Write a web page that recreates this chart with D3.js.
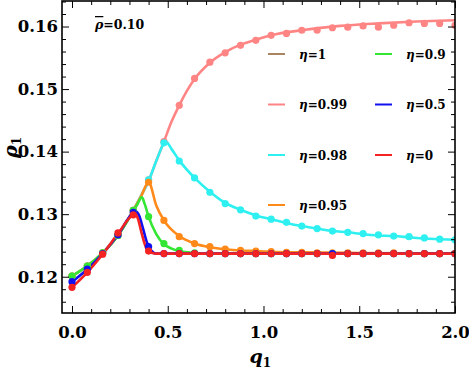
<!DOCTYPE html>
<html>
<head>
<meta charset="utf-8">
<script src="https://cdn.jsdelivr.net/npm/d3@7"></script>
<style>
  body { margin: 0; background: #fff; }
  text { font-family: "DejaVu Serif", serif; font-weight: bold; }
</style>
</head>
<body>
<div class="chart"></div>
<script>
// simulation points, same q grid for every series
const qPoints = [0, 0.08, 0.16, 0.24, 0.32, 0.40, 0.48, 0.56, 0.64, 0.72, 0.80, 0.88, 0.96,
  1.04, 1.12, 1.20, 1.28, 1.36, 1.44, 1.52, 1.60, 1.68, 1.76, 1.84, 1.92, 2.00];

const pts099 = [0.1201, 0.1217, 0.1238, 0.1266, 0.1306, 0.1355, 0.1416, 0.1474, 0.1517, 0.1543, 0.1558, 0.1570, 0.1578,
  0.1586, 0.1589, 0.1594, 0.1594, 0.1598, 0.1599, 0.1601, 0.1599, 0.1602, 0.1606, 0.1605, 0.1605, 0.1602];
const pts098 = [0.1201, 0.1217, 0.1238, 0.1266, 0.1306, 0.1355, 0.1414, 0.1385, 0.1358, 0.1335, 0.1317, 0.1307, 0.1297,
  0.1292, 0.1287, 0.1281, 0.1277, 0.1273, 0.1271, 0.1269, 0.1267, 0.1265, 0.1264, 0.1262, 0.1260, 0.1259];
const pts095 = [0.1201, 0.1217, 0.1238, 0.1266, 0.1306, 0.1351, 0.1290, 0.1264, 0.1253, 0.1248, 0.1244, 0.1242, 0.1241,
  0.1240, 0.1239, 0.1239, 0.1238, 0.1238, 0.1238, 0.1238, 0.1238, 0.1238, 0.1237, 0.1237, 0.1237, 0.1237];
const pts090 = [0.1201, 0.1217, 0.1238, 0.1266, 0.1306, 0.1296, 0.1253, 0.1242, 0.1238, 0.1237, 0.1237, 0.1237, 0.1237,
  0.1237, 0.1237, 0.1237, 0.1237, 0.1237, 0.1237, 0.1237, 0.1237, 0.1237, 0.1237, 0.1237, 0.1237, 0.1237];
const pts050 = [0.1192, 0.1212, 0.1237, 0.1267, 0.1303, 0.1248, 0.1237, 0.1237, 0.1237, 0.1237, 0.1237, 0.1237, 0.1237,
  0.1237, 0.1237, 0.1237, 0.1237, 0.1237, 0.1237, 0.1237, 0.1237, 0.1237, 0.1237, 0.1237, 0.1237, 0.1237];
const pts000 = [0.1183, 0.1207, 0.1236, 0.1270, 0.1299, 0.1241, 0.1237, 0.1237, 0.1237, 0.1237, 0.1237, 0.1237, 0.1237,
  0.1237, 0.1237, 0.1237, 0.1237, 0.1234, 0.1237, 0.1237, 0.1237, 0.1237, 0.1237, 0.1237, 0.1237, 0.1237];

// theory curves [q, rho]
const line099 = [[0, 0.1201], [0.08, 0.1217], [0.16, 0.1238], [0.24, 0.1266], [0.32, 0.1306], [0.36, 0.1329],
  [0.40, 0.1353], [0.44, 0.1385], [0.48, 0.1416], [0.52, 0.1448], [0.56, 0.1474], [0.60, 0.1497], [0.64, 0.1516],
  [0.72, 0.1542], [0.80, 0.1559], [0.88, 0.1571], [0.96, 0.1579], [1.04, 0.1586], [1.2, 0.1594], [1.4, 0.1601],
  [1.6, 0.1605], [1.8, 0.1608], [2.0, 0.1610]];
const line098 = [[0, 0.1201], [0.08, 0.1217], [0.16, 0.1238], [0.24, 0.1266], [0.32, 0.1306], [0.36, 0.1329],
  [0.40, 0.1353], [0.44, 0.1385], [0.48, 0.1413], [0.49, 0.1416], [0.52, 0.1404], [0.56, 0.1386], [0.64, 0.1358],
  [0.72, 0.1336], [0.80, 0.1318], [0.88, 0.1307], [0.96, 0.1298], [1.04, 0.1292], [1.12, 0.1286], [1.20, 0.1281],
  [1.28, 0.1277], [1.36, 0.1273], [1.44, 0.1271], [1.52, 0.1268], [1.60, 0.1266], [1.68, 0.1265], [1.76, 0.1263],
  [1.84, 0.1261], [1.92, 0.1260], [2.0, 0.1259]];
const line095 = [[0, 0.1201], [0.08, 0.1217], [0.16, 0.1238], [0.24, 0.1266], [0.32, 0.1306], [0.36, 0.1328],
  [0.40, 0.1351], [0.44, 0.1314], [0.48, 0.1290], [0.56, 0.1265], [0.64, 0.1253], [0.72, 0.1247], [0.80, 0.1244],
  [0.88, 0.1242], [0.96, 0.1241], [1.04, 0.1240], [1.2, 0.1239], [1.5, 0.1238], [2.0, 0.1237]];
const line090 = [[0, 0.1201], [0.08, 0.1217], [0.16, 0.1238], [0.24, 0.1266], [0.32, 0.1305], [0.34, 0.1315],
  [0.365, 0.1327], [0.38, 0.1316], [0.40, 0.1296], [0.44, 0.1268], [0.48, 0.1252], [0.52, 0.1245], [0.56, 0.1241],
  [0.64, 0.1238], [0.72, 0.1237], [2.0, 0.1237]];
const line050 = [[0, 0.1192], [0.08, 0.1212], [0.16, 0.1237], [0.24, 0.1267], [0.32, 0.1302], [0.335, 0.1304],
  [0.35, 0.1298], [0.37, 0.1278], [0.39, 0.1256], [0.40, 0.1248], [0.42, 0.1240], [0.44, 0.1237], [2.0, 0.1237]];
const line000 = [[0, 0.1183], [0.08, 0.1207], [0.16, 0.1236], [0.24, 0.1269], [0.32, 0.1299], [0.33, 0.1300],
  [0.345, 0.1292], [0.36, 0.1274], [0.38, 0.1252], [0.39, 0.1244], [0.40, 0.1241], [0.42, 0.1238], [0.44, 0.1237],
  [2.0, 0.1237]];

const etaLabels = ['1', '0.99', '0.98', '0.95', '0.9', '0.5', '0'];
const etaColors = ['#a98460', '#ff8585', '#2ef0f0', '#ff8a1a', '#33e633', '#1010f0', '#f52222'];

// drawing order: later on top (eta=1 has nothing visible)
const series = [
  { line: line099, pts: pts099, color: etaColors[1] },
  { line: line098, pts: pts098, color: etaColors[2] },
  { line: line095, pts: pts095, color: etaColors[3] },
  { line: line090, pts: pts090, color: etaColors[4] },
  { line: line050, pts: pts050, color: etaColors[5] },
  { line: line000, pts: pts000, color: etaColors[6] }
];

const margin = { left: 62, right: 14, top: 1, bottom: 56 };
const chartWidth = 469;
const chartHeight = 369;
const width = chartWidth - margin.left - margin.right;
const height = chartHeight - margin.top - margin.bottom;

const svg = d3.select('.chart')
  .append('svg')
  .attr('width', chartWidth)
  .attr('height', chartHeight)
  .append('g')
  .attr('transform', `translate(${margin.left}, ${margin.top})`);

const xScale = d3.scaleLinear()
  .domain([-0.0522, 2.0])
  .range([0, width]);

const yScale = d3.scaleLinear()
  .domain([0.11420, 0.16408])
  .range([height, 0]);

// clip the data to the frame
svg.append('clipPath').attr('id', 'clip')
  .append('rect').attr('width', width).attr('height', height);
const plot = svg.append('g').attr('clip-path', 'url(#clip)');

const lineGen = d3.line()
  .x(d => xScale(d[0]))
  .y(d => yScale(d[1]))
  .curve(d3.curveMonotoneX);

series.forEach(s => {
  plot.append('path')
    .datum(s.line)
    .attr('d', lineGen)
    .attr('fill', 'none')
    .attr('stroke', s.color)
    .attr('stroke-width', 2.6)
    .attr('stroke-linejoin', 'round');
});

series.forEach(s => {
  plot.append('g').selectAll('circle')
    .data(s.pts)
    .enter()
    .append('circle')
    .attr('cx', (d, i) => xScale(qPoints[i]))
    .attr('cy', d => yScale(d))
    .attr('r', 3.6)
    .attr('fill', s.color);
});

// frame and ticks (inward, Mathematica style)
const xMajor = [0, 0.5, 1.0, 1.5, 2.0];
const xMinor = d3.range(0, 2.01, 0.1).filter(v => Math.abs(v * 2 - Math.round(v * 2)) > 1e-6);
const yMajor = [0.12, 0.13, 0.14, 0.15, 0.16];
const yMinor = d3.range(0.116, 0.1641, 0.002).filter(v => Math.abs(v * 100 - Math.round(v * 100)) > 1e-6);

const styleAxis = g => {
  g.select('.domain').remove();
  g.selectAll('line').attr('stroke', '#000').attr('stroke-width', 1);
};

svg.append('g').attr('transform', `translate(0, ${height})`)
  .call(d3.axisBottom(xScale).tickValues(xMajor).tickSizeInner(-7).tickPadding(13).tickFormat(d3.format('.1f')))
  .call(styleAxis)
  .selectAll('text')
  .attr('font-size', '16.5px')
  .attr('font-family', '"DejaVu Serif", serif')
  .attr('font-weight', 'bold')
  .attr('fill', '#000');
svg.append('g').attr('transform', `translate(0, ${height})`)
  .call(d3.axisBottom(xScale).tickValues(xMinor).tickSizeInner(-4).tickFormat(''))
  .call(styleAxis);
svg.append('g')
  .call(d3.axisTop(xScale).tickValues(xMajor).tickSizeInner(-7).tickFormat(''))
  .call(styleAxis);
svg.append('g')
  .call(d3.axisTop(xScale).tickValues(xMinor).tickSizeInner(-4).tickFormat(''))
  .call(styleAxis);

svg.append('g')
  .call(d3.axisLeft(yScale).tickValues(yMajor).tickSizeInner(-7).tickPadding(4).tickFormat(d3.format('.2f')))
  .call(styleAxis)
  .selectAll('text')
  .attr('font-size', '16.5px')
  .attr('font-family', '"DejaVu Serif", serif')
  .attr('font-weight', 'bold')
  .attr('fill', '#000');
svg.append('g')
  .call(d3.axisLeft(yScale).tickValues(yMinor).tickSizeInner(-4).tickFormat(''))
  .call(styleAxis);
svg.append('g').attr('transform', `translate(${width}, 0)`)
  .call(d3.axisRight(yScale).tickValues(yMajor).tickSizeInner(-7).tickFormat(''))
  .call(styleAxis);
svg.append('g').attr('transform', `translate(${width}, 0)`)
  .call(d3.axisRight(yScale).tickValues(yMinor).tickSizeInner(-4).tickFormat(''))
  .call(styleAxis);

svg.append('rect')
  .attr('width', width)
  .attr('height', height)
  .attr('fill', 'none')
  .attr('stroke', '#000')
  .attr('stroke-width', 1.6);

// axis titles
const xt = svg.append('text')
  .attr('x', width / 2 - 9)
  .attr('y', height + 50)
  .attr('font-size', '19px');
xt.append('tspan').attr('font-style', 'italic').text('q');
xt.append('tspan').attr('font-size', '12px').attr('dy', 4).text('1');

const yt = svg.append('text')
  .attr('transform', `translate(${-45}, ${yScale(0.139)}) rotate(-90)`)
  .attr('font-size', '19px');
yt.append('tspan').attr('font-style', 'italic').text('ρ');
yt.append('tspan').attr('font-size', '12px').attr('dy', 4).text('1');

// rho-bar annotation
const rb = svg.append('text')
  .attr('x', 33)
  .attr('y', 28)
  .attr('font-size', '12.5px');
rb.append('tspan').attr('font-style', 'italic').style('text-decoration', 'overline').text('ρ');
rb.append('tspan').text('=0.10');

// legend: two columns
const legendPos = [
  { x: 206, y: 54 }, { x: 206, y: 104.5 }, { x: 206, y: 155 }, { x: 206, y: 205 },
  { x: 313, y: 54 }, { x: 313, y: 104.5 }, { x: 313, y: 155 }
];
const legend = svg.append('g');
etaLabels.forEach((lab, i) => {
  const p = legendPos[i];
  legend.append('line')
    .attr('x1', p.x).attr('x2', p.x + 17)
    .attr('y1', p.y - margin.top).attr('y2', p.y - margin.top)
    .attr('stroke', etaColors[i])
    .attr('stroke-width', 2);
  const t = legend.append('text')
    .attr('x', p.x + 31)
    .attr('y', p.y - margin.top + 4.5)
    .attr('font-size', '12px');
  t.append('tspan').attr('font-style', 'italic').text('η');
  t.append('tspan').text('=' + lab);
});
</script>
</body>
</html>
